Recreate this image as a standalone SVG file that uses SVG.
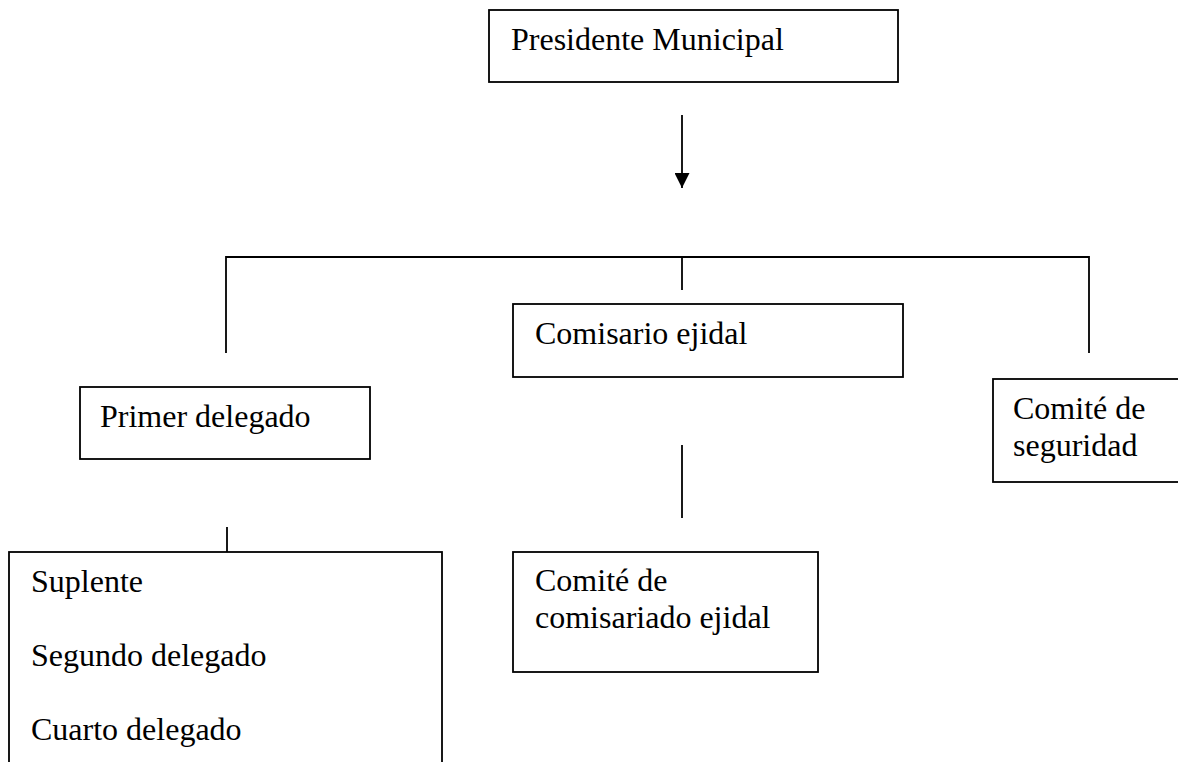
<svg xmlns="http://www.w3.org/2000/svg" width="1178" height="762" viewBox="0 0 1178 762">
<style>
.box{fill:#fff;stroke:#000;stroke-width:1.8}
.ln{stroke:#000;stroke-width:1.8;fill:none}
text{font-family:"Liberation Serif","Times New Roman",serif;font-size:32px;fill:#000}
</style>
<defs>
<marker id="ah" viewBox="0 0 10 10" refX="10" refY="5" markerWidth="16" markerHeight="15" markerUnits="userSpaceOnUse" orient="auto">
<path d="M0,0 L10,5 L0,10 Z" fill="#000"/>
</marker>
</defs>
<rect width="1178" height="762" fill="#fff"/>
<g id="connectors">
<line class="ln" x1="682" y1="115" x2="682" y2="188" marker-end="url(#ah)"/>
<path class="ln" d="M226,353 V257 H1089 V353"/>
<line class="ln" x1="682" y1="257" x2="682" y2="290"/>
<line class="ln" x1="682" y1="445" x2="682" y2="518"/>
<line class="ln" x1="227" y1="527" x2="227" y2="552"/>
</g>
<g id="n-presidente">
<rect class="box" x="489" y="10" width="409" height="72"/>
<text x="511" y="50">Presidente Municipal</text>
</g>
<g id="n-comisario">
<rect class="box" x="513" y="304" width="390" height="73"/>
<text x="535" y="344">Comisario ejidal</text>
</g>
<g id="n-primer">
<rect class="box" x="80" y="387" width="290" height="72"/>
<text x="100" y="427">Primer delegado</text>
</g>
<g id="n-seguridad">
<rect class="box" x="993" y="379" width="200" height="103"/>
<text x="1013" y="419">Comité de</text>
<text x="1013" y="456">seguridad</text>
</g>
<g id="n-comisariado">
<rect class="box" x="513" y="552" width="305" height="120"/>
<text x="535" y="591">Comité de</text>
<text x="535" y="628">comisariado ejidal</text>
</g>
<g id="n-suplente">
<rect class="box" x="9" y="552" width="433" height="230"/>
<text x="31" y="592">Suplente</text>
<text x="31" y="666">Segundo delegado</text>
<text x="31" y="740">Cuarto delegado</text>
</g>
</svg>
